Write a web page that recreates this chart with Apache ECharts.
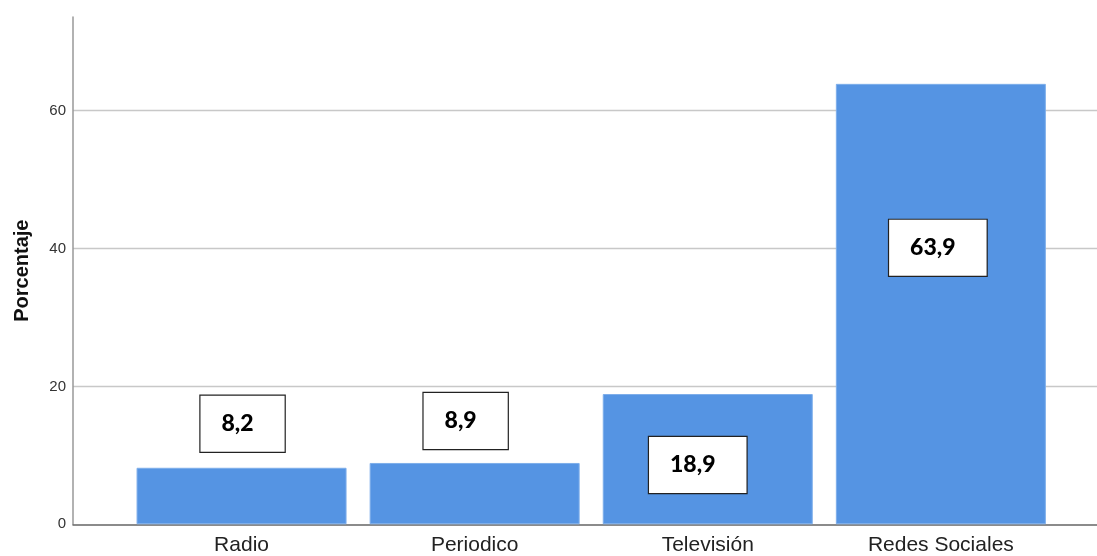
<!DOCTYPE html>
<html>
<head>
<meta charset="utf-8">
<script src="https://cdn.jsdelivr.net/npm/echarts@6/dist/echarts.min.js"></script>
<style>
html,body{margin:0;padding:0;background:#fff;}
#chart{width:1097px;height:556px;}
</style>
</head>
<body>
<div id="chart"></div>
<script>
const categories = ['Radio', 'Periodico', 'Televisión', 'Redes Sociales'];
const values = [8.2, 8.9, 18.9, 63.9];
const valueLabels = ['8,2', '8,9', '18,9', '63,9'];
const yTicks = [0, 20, 40, 60];
const yTitle = 'Porcentaje';

// label box placement relative to each bar's top-left (layout only)
const labelPos = [[106, -44], [96, -42], [95, 71], [102, 164]];

const Y_MAX = 73.6;
const FONT = 'Liberation Sans, Arial, sans-serif';
const chart = echarts.init(document.getElementById('chart'), null, {renderer: 'canvas'});

const option = {
  animation: false,
  backgroundColor: '#fff',
  grid: [
    {left: 73, right: 0, top: 17, bottom: 31.7, containLabel: false},
    {left: 125, width: 932.4, top: 17, bottom: 31.7, containLabel: false}
  ],
  xAxis: [
    {
      gridIndex: 0, type: 'category', data: [''],
      axisLine: {show: true, lineStyle: {color: '#666', width: 1.5}},
      axisTick: {show: false}, axisLabel: {show: false}, splitLine: {show: false}
    },
    {
      gridIndex: 1, type: 'category', data: categories,
      axisLine: {show: false}, axisTick: {show: false},
      axisLabel: {
        show: true, margin: 10, fontSize: 21, color: '#222', fontFamily: FONT
      }
    }
  ],
  yAxis: [
    {
      gridIndex: 0, type: 'value', min: 0, max: Y_MAX, interval: 20,
      name: yTitle, nameLocation: 'middle', nameGap: 41,
      nameTextStyle: {fontSize: 20, fontWeight: 'bold', color: '#111', fontFamily: FONT},
      axisLine: {show: true, lineStyle: {color: '#999', width: 1.5}},
      axisTick: {show: false},
      axisLabel: {
        margin: 7, fontSize: 15, color: '#333', fontFamily: FONT,
        showMaxLabel: false,
        formatter: function (v) { return yTicks.indexOf(v) >= 0 ? String(v) : ''; }
      },
      splitLine: {show: true, showMinLine: false, showMaxLine: false, lineStyle: {color: '#c8c8c8', width: 1.3}}
    },
    {
      gridIndex: 1, type: 'value', min: 0, max: Y_MAX, interval: 20,
      show: false, splitLine: {show: false}
    }
  ],
  series: [
    {
      type: 'bar',
      xAxisIndex: 1, yAxisIndex: 1,
      barWidth: 210,
      data: values.map(function (v, i) {
        return {
          value: v,
          label: {
            show: true,
            position: labelPos[i],
            align: 'center',
            verticalAlign: 'middle',
            formatter: valueLabels[i],
            fontSize: 23,
            fontWeight: 900,
            fontFamily: 'Lato, DejaVu Sans, sans-serif',
            color: '#000',
            backgroundColor: '#fff',
            borderColor: '#222',
            borderWidth: 1.2,
            lineHeight: 24,
            padding: [16, 31, 16, 21]
          }
        };
      }),
      itemStyle: {color: '#5594e3', borderColor: '#7eaeea', borderWidth: 1}
    }
  ]
};
chart.setOption(option);
</script>
</body>
</html>
